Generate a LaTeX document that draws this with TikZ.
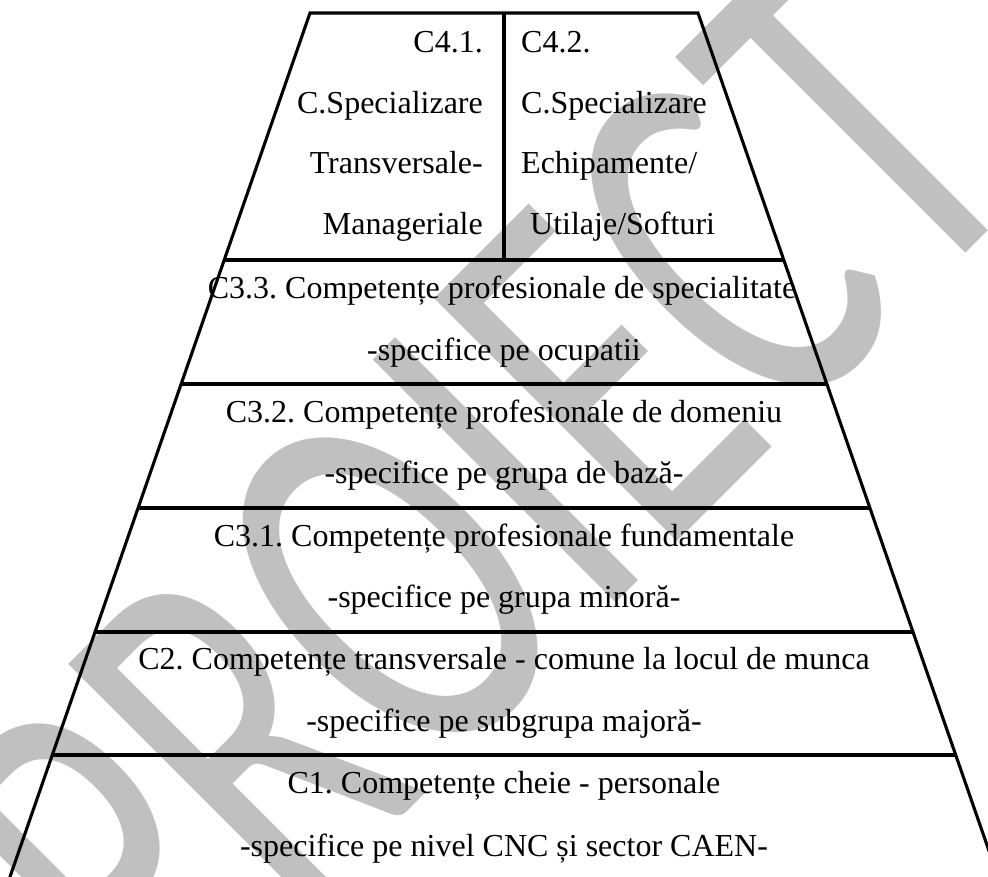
\documentclass[tikz,border=0pt]{standalone}
\usepackage{fontspec}
\usepackage{graphicx}
\setmainfont{Liberation Serif}
\newfontfamily\wmfont{Carlito}
\definecolor{wmgray}{RGB}{192,192,192}
\frenchspacing
\tikzset{
  txt/.style={inner sep=0pt, font=\fontsize{32}{38}\selectfont, text=black},
  edge/.style={line width=3.1pt, line cap=butt, line join=miter},
  wm/.style={inner sep=0pt, text=wmgray, rotate=45}
}
\begin{document}
\begin{tikzpicture}[x=1pt,y=-1pt]
\useasboundingbox (0,0) rectangle (988,877);
\clip (0,0) rectangle (988,877);
\fill[white] (0,0) rectangle (988,877);
% watermark
\node[wm, anchor=base west] (wmark) at (163.3,1055.7)
  {\scalebox{1}[1.5]{\fontsize{357}{357}\wmfont PROIECT}};
% outline corners
\coordinate (tl) at (310,13);
\coordinate (tr) at (698,13);
\coordinate (bl) at (-0.5,907);
\coordinate (br) at (1008.5,907);
\draw[edge] (bl) -- (tl) -- (tr) -- (br);
% horizontal separators
\foreach \yy/\nm in {260/l4,384/l33,508/l32,632/l31,755/l2}{
  \pgfmathsetmacro{\dx}{0.349*(\yy-13)}
  \coordinate (\nm w) at ({310-\dx},\yy);
  \coordinate (\nm e) at ({698+\dx},\yy);
  \draw[edge] (\nm w) -- (\nm e);
}
\coordinate (divtop) at (504,13);
\coordinate (divbot) at (504,260);
\draw[edge] (divtop) -- (divbot);
% C4.1
\node[txt, anchor=base east] (a1) at (483,53) {C4.1.};
\node[txt, anchor=base east] (a2) at (483,114) {C.Specializare};
\node[txt, anchor=base east] (a3) at (483,174) {Transversale-};
\node[txt, anchor=base east] (a4) at (483,235) {Manageriale};
% C4.2
\node[txt, anchor=base west] (b1) at (521,53) {C4.2.};
\node[txt, anchor=base west] (b2) at (521,114) {C.Specializare};
\node[txt, anchor=base west] (b3) at (521,174) {Echipamente/};
\node[txt, anchor=base west] (b4) at (530,235) {Utilaje/Softuri};
% rows
\node[txt, anchor=base] (c33a) at (502,299) {C3.3. Competențe profesionale de specialitate};
\node[txt, anchor=base] (c33b) at (504,360) {-specifice pe ocupatii};
\node[txt, anchor=base] (c32a) at (504,422) {C3.2. Competențe profesionale de domeniu};
\node[txt, anchor=base] (c32b) at (504,483) {-specifice pe grupa de bază-};
\node[txt, anchor=base] (c31a) at (504,546) {C3.1. Competențe profesionale fundamentale};
\node[txt, anchor=base] (c31b) at (504,607) {-specifice pe grupa minoră-};
\node[txt, anchor=base] (c2a) at (504,669) {C2. Competențe transversale - comune la locul de munca};
\node[txt, anchor=base] (c2b) at (504,731) {-specifice pe subgrupa majoră-};
\node[txt, anchor=base] (c1a) at (504,793) {C1. Competențe cheie - personale};
\node[txt, anchor=base] (c1b) at (504,856) {-specifice pe nivel CNC și sector CAEN-};
\end{tikzpicture}
\end{document}
